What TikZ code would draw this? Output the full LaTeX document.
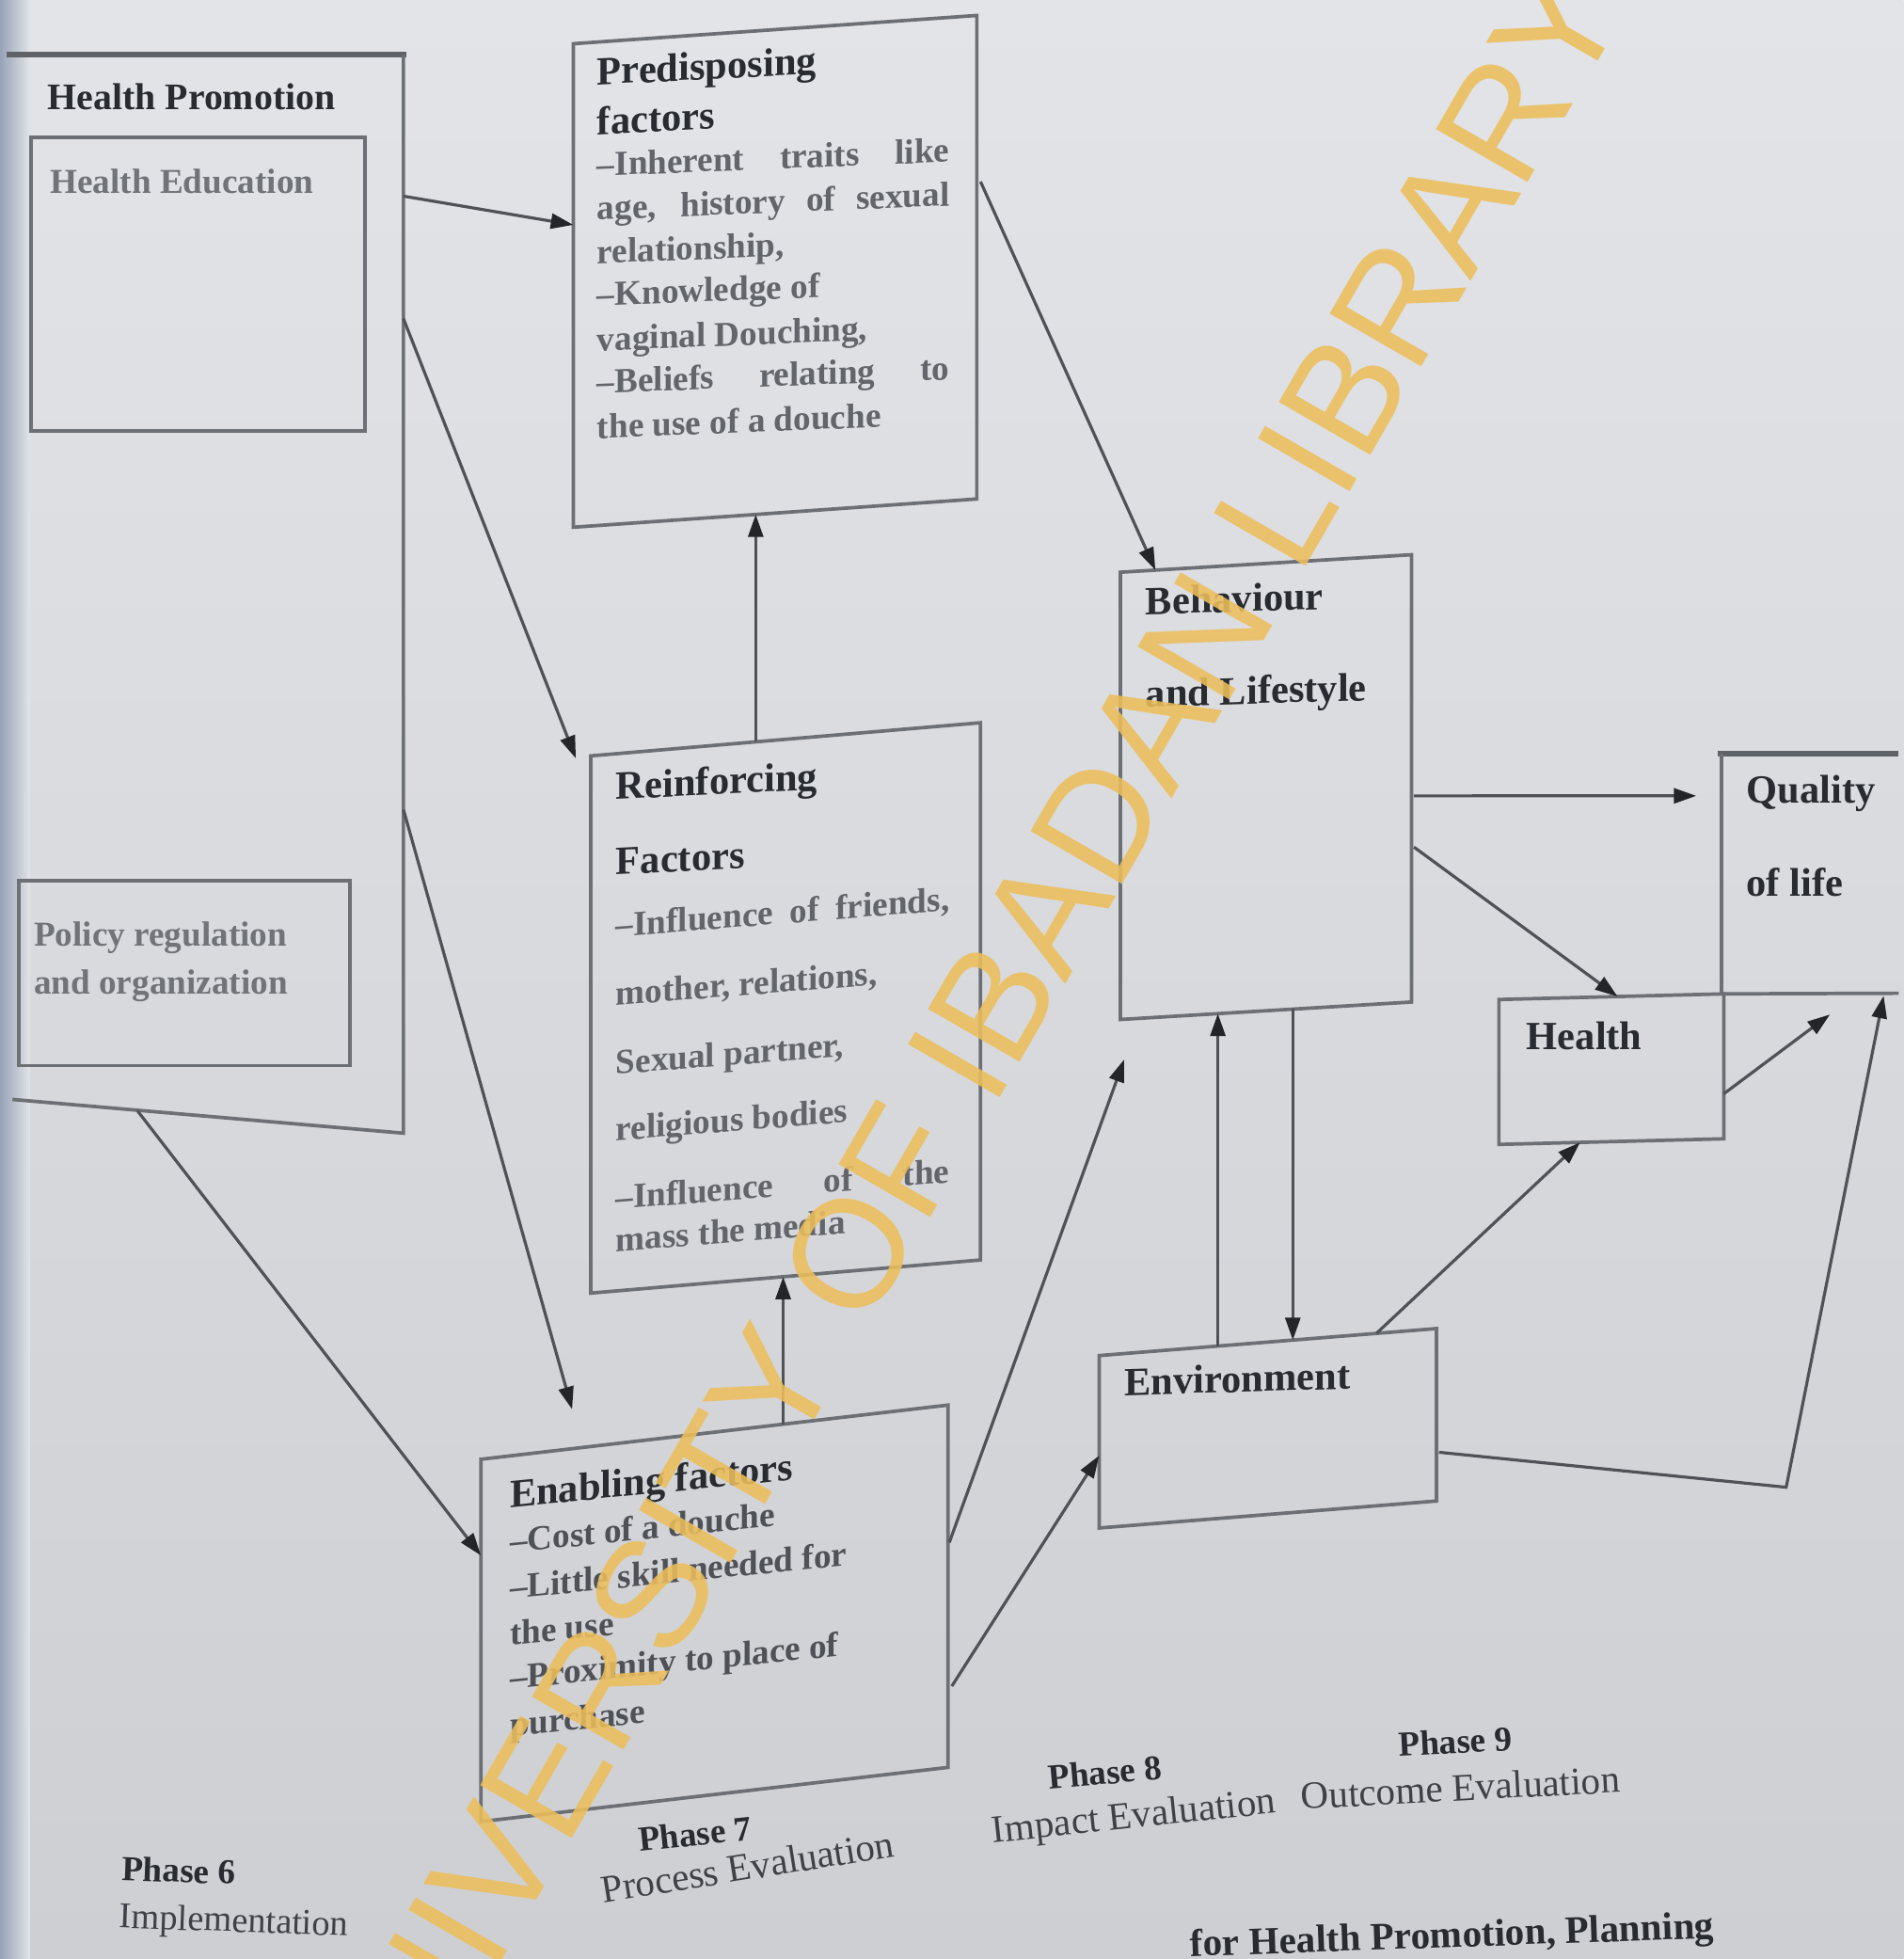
\documentclass[tikz,border=0pt]{standalone}
\usepackage{fontspec}
\setmainfont{Liberation Serif}
\newfontfamily\wmfont{Liberation Sans}
\usetikzlibrary{arrows.meta}
\definecolor{bgtop}{RGB}{226,228,231}
\definecolor{bgbot}{RGB}{206,207,210}
\definecolor{edgec}{RGB}{150,163,184}
\definecolor{boxc}{RGB}{108,111,116}
\definecolor{topc}{RGB}{95,98,103}
\definecolor{linec}{RGB}{78,81,86}
\definecolor{tipc}{RGB}{35,37,41}
\definecolor{hdrc}{RGB}{40,43,48}
\definecolor{bodyc}{RGB}{98,101,106}
\definecolor{lightc}{RGB}{112,115,120}
\definecolor{phc}{RGB}{62,65,70}
\definecolor{wmc}{RGB}{236,190,92}
\tikzset{
  boxnode/.style={draw=boxc, line width=2.8pt, anchor=north west, inner sep=0pt, outer sep=0pt},
  openbox/.style={draw=none, anchor=north west, inner sep=0pt, outer sep=0pt},
  edgeline/.style={draw=boxc, line width=2.8pt},
  heavyline/.style={draw=topc, line width=4.5pt},
  arr/.style={draw=linec, line width=2.4pt, -{Triangle[length=18pt,width=12pt,color=tipc]}},
  hdr/.style={anchor=base west, inner sep=0pt, text=hdrc, font=\bfseries\fontsize{32}{36}\selectfont},
  bod/.style={anchor=base west, inner sep=0pt, text=bodyc, font=\bfseries\fontsize{28}{32}\selectfont},
  lite/.style={anchor=base west, inner sep=0pt, text=lightc, font=\bfseries\fontsize{28}{32}\selectfont},
  phn/.style={anchor=base west, inner sep=0pt, text=hdrc, font=\bfseries\fontsize{28}{32}\selectfont},
  phd/.style={anchor=base west, inner sep=0pt, text=phc, font=\fontsize{31}{34}\selectfont},
}
\begin{document}
\begin{tikzpicture}[x=1pt,y=-1pt]
\useasboundingbox (0,0) rectangle (1524,1568);
\begin{scope}
\clip (0,0) rectangle (1524,1568);
\shade[top color=bgtop, bottom color=bgbot] (0,0) rectangle (1524,1568);
\shade[left color=edgec, right color=bgtop] (0,0) rectangle (24,1568);

% Health promotion frame
\node[openbox, minimum width=318pt, minimum height=863pt] (hp) at (5,44) {};
\draw[heavyline] (hp.north west) -- ([shift={(2,0)}]hp.north east);
\draw[edgeline] (hp.north east) -- (hp.south east) -- ([shift={(5,-27)}]hp.south west);
\node[hdr, font=\bfseries\fontsize{30}{34}\selectfont] (hpt) at (38,88) {Health Promotion};
\node[boxnode, minimum width=267pt, minimum height=235pt] (hedu) at (25,110) {};
\node[lite] (hedut) at (40,155) {Health Education};
\node[boxnode, minimum width=265pt, minimum height=148pt] (pol) at (15,705) {};
\node[lite] (polt1) at (27,757) {Policy regulation};
\node[lite] (polt2) at (27,796) {and organization};

% Predisposing
\node[boxnode, yslant=0.07, minimum width=323pt, minimum height=387pt] (pre) at (459,35) {};
\node[hdr, yslant=0.05] (pre1) at (478,68) {Predisposing};
\node[hdr, yslant=0.05] (pre2) at (478,108) {factors};
\node[bod, yslant=0.04] (pre3) at (478,141) {\makebox[282pt][s]{–Inherent traits like}};
\node[bod, yslant=0.04] (pre4) at (478,176) {\makebox[282pt][s]{age, history of sexual}};
\node[bod, yslant=0.04] (pre5) at (478,211) {relationship,};
\node[bod, yslant=0.04] (pre6) at (478,245) {–Knowledge of};
\node[bod, yslant=0.04] (pre7) at (478,281) {vaginal Douching,};
\node[bod, yslant=0.04] (pre8) at (478,315) {\makebox[282pt][s]{–Beliefs relating to}};
\node[bod, yslant=0.04] (pre9) at (478,351) {the use of a douche};

% Reinforcing
\node[boxnode, yslant=0.085, minimum width=312pt, minimum height=430pt] (rein) at (473,605) {};
\node[hdr, yslant=0.05] (rein1) at (493,640) {Reinforcing};
\node[hdr, yslant=0.05] (rein2) at (493,700) {Factors};
\node[bod, yslant=0.08] (rein3) at (493,750) {\makebox[267pt][s]{–Influence of friends,}};
\node[bod, yslant=0.08] (rein4) at (493,805) {mother, relations,};
\node[bod, yslant=0.08] (rein5) at (493,860) {Sexual partner,};
\node[bod, yslant=0.08] (rein6) at (493,913) {religious bodies};
\node[bod, yslant=0.08] (rein7) at (493,968) {\makebox[267pt][s]{–Influence of the}};
\node[bod, yslant=0.08] (rein8) at (493,1002) {mass the media};

% Enabling
\node[boxnode, yslant=0.116, minimum width=374pt, minimum height=290pt] (enab) at (385,1168) {};
\node[hdr, yslant=0.1] (enab1) at (408,1207) {Enabling factors};
\node[bod, yslant=0.1, text=linec] (enab2) at (408,1243) {–Cost of a douche};
\node[bod, yslant=0.1, text=linec] (enab3) at (408,1280) {–Little skill needed for};
\node[bod, yslant=0.1, text=linec] (enab4) at (408,1317) {the use};
\node[bod, yslant=0.1, text=linec] (enab5) at (408,1352) {–Proximity to place of};
\node[bod, yslant=0.1, text=linec] (enab6) at (408,1390) {purchase};

% Behaviour, environment, health, quality of life
\node[boxnode, yslant=0.06, minimum width=233pt, minimum height=358pt] (beh) at (897,458) {};
\node[hdr, yslant=0.03] (beh1) at (917,492) {Behaviour};
\node[hdr, yslant=0.03] (beh2) at (917,566) {and Lifestyle};
\node[boxnode, yslant=0.08, minimum width=270pt, minimum height=138pt] (env) at (880,1085) {};
\node[hdr, yslant=0.03] (env1) at (900,1117) {Environment};
\node[boxnode, yslant=0.025, minimum width=180pt, minimum height=116pt] (hlth) at (1200,800) {};
\node[hdr] (hlth1) at (1222,840) {Health};
\node[openbox, minimum width=142pt, minimum height=192pt] (qol) at (1378,603) {};
\draw[heavyline] ([shift={(-3,0)}]qol.north west) -- (qol.north east);
\draw[edgeline] (qol.north west) -- (qol.south west);
\draw[edgeline] (hlth.north east) -- (qol.south east);
\node[hdr] (qol1) at (1398,643) {Quality};
\node[hdr] (qol2) at (1398,717) {of life};

% connectors
\draw[arr] ([shift={(0,113)}]hp.north east) -- ([shift={(0,145)}]pre.north west);
\draw[arr] ([shift={(0,211)}]hp.north east) -- ([shift={(-12,2)}]rein.north west);
\draw[arr] ([shift={(0,604)}]hp.north east) -- ([shift={(73,-40)}]enab.north west);
\draw[arr] ([shift={(105,-18)}]hp.south west) -- ([shift={(0,77)}]enab.north west);
\draw[arr] ([shift={(132,-11.2)}]rein.north west) -- ([shift={(146,-10.2)}]pre.south west);
\draw[arr] ([shift={(242,-28.1)}]enab.north west) -- ([shift={(154,-13.1)}]rein.south west);
\draw[arr] ([shift={(3,133)}]pre.north east) -- ([shift={(28,-1.7)}]beh.north west);
\draw[arr] ([shift={(1,110)}]enab.north east) -- ([shift={(3,32)}]beh.south west);
\draw[arr] ([shift={(3,225)}]enab.north east) -- ([shift={(0,80)}]env.north west);
\draw[arr] ([shift={(95,-7.6)}]env.north west) -- ([shift={(78,-4.7)}]beh.south west);
\draw[arr] ([shift={(138,-8.3)}]beh.south west) -- ([shift={(155,-12.4)}]env.north west);
\draw[arr] ([shift={(2,193)}]beh.north east) -- ([shift={(-20,34)}]qol.north west);
\draw[arr] ([shift={(2,234)}]beh.north east) -- ([shift={(95,-2.4)}]hlth.north west);
\draw[arr] ([shift={(222,-17.8)}]env.north west) -- ([shift={(65,-1.6)}]hlth.south west);
\draw[arr] ([shift={(0,80)}]hlth.north east) -- ([shift={(-55,17)}]qol.south east);
\draw[arr] ([shift={(2,99)}]env.north east) -- ([shift={(280,-11)}]env.south east) -- ([shift={(-12,2)}]qol.south east);

% phase labels
\node[phn, rotate=-2] (ph6) at (97,1505) {Phase 6};
\node[phd, rotate=-2, font=\fontsize{29}{32}\selectfont] (ph6d) at (95,1543) {Implementation};
\node[phn, rotate=6] (ph7) at (512,1482) {Phase 7};
\node[phd, rotate=9] (ph7d) at (483,1523) {Process Evaluation};
\node[phn, rotate=5] (ph8) at (840,1432) {Phase 8};
\node[phd, rotate=6] (ph8d) at (795,1475) {Impact Evaluation};
\node[phn, rotate=3] (ph9) at (1120,1406) {Phase 9};
\node[phd, rotate=3] (ph9d) at (1042,1448) {Outcome Evaluation};
\node[hdr, rotate=2, font=\bfseries\fontsize{31}{34}\selectfont] (cap) at (953,1566) {for Health Promotion, Planning};

% watermark
\node[anchor=base west, inner sep=0pt, rotate=60, text=wmc, text opacity=0.88, font=\wmfont\fontsize{123}{123}\selectfont] (wm) at (306,1735) {UNIVERSITY OF IBADAN LIBRARY};
\end{scope}
\end{tikzpicture}
\end{document}
